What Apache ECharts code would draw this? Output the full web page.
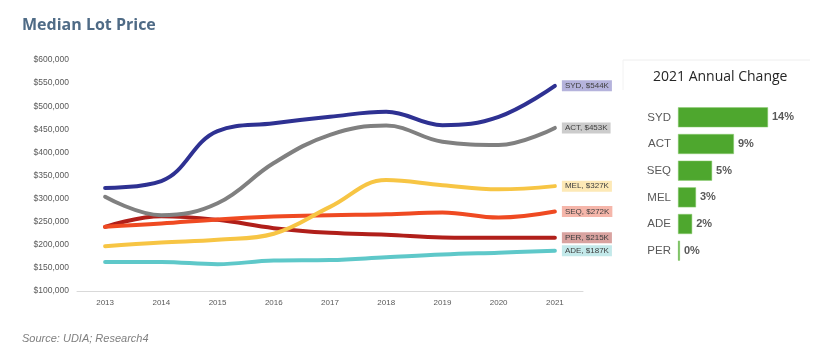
<!DOCTYPE html>
<html><head><meta charset="utf-8">
<script src="https://cdn.jsdelivr.net/npm/echarts@6/dist/echarts.min.js"></script>
<style>html,body{margin:0;padding:0;background:#fff}#c{width:838px;height:361px}</style>
</head><body><div id="c"></div>
<script>
const years = ['2013','2014','2015','2016','2017','2018','2019','2020','2021'];
const syd = [323000, 338000, 446000, 463000, 477000, 488000, 459000, 477000, 544000];
const act = [304000, 264000, 290000, 377000, 438000, 458000, 423000, 416000, 453000];
const mel = [197000, 205000, 211000, 224000, 282000, 340000, 329000, 320000, 327000];
const seq = [239000, 246000, 255000, 261000, 264000, 266000, 270000, 259000, 272000];
const per = [239000, 262000, 254000, 236000, 226000, 222000, 216000, 215000, 215000];
const ade = [163000, 163000, 158000, 166000, 167000, 173000, 179000, 183000, 187000];
const yTicks = [100000, 150000, 200000, 250000, 300000, 350000, 400000, 450000, 500000, 550000, 600000];
const changeCats = ['SYD','ACT','SEQ','MEL','ADE','PER'];
const changeVals = [14.0, 8.7, 5.3, 2.8, 2.2, 0.3];
const changeLabels = ['14%','9%','5%','3%','2%','0%'];

const FONT = '"Liberation Sans", Arial, sans-serif';
function mk(name, data, color, bg) {
  return {
    name, type: 'line', data, smooth: 0.4, symbol: 'none',
    xAxisIndex: 0, yAxisIndex: 0,
    lineStyle: { width: 4, color: color, cap: 'round' },
    itemStyle: { color: color },
    endLabel: {
      show: true, distance: 7,
      formatter: function(p){ return name + ', $' + Math.round(p.value/1000) + 'K'; },
      backgroundColor: bg, color: '#404040', fontSize: 8, fontFamily: FONT,
      padding: [2, 3, 1, 3]
    }
  };
}
const chart = echarts.init(document.getElementById('c'));
chart.setOption({
  animation: false,
  backgroundColor: '#fff',
  title: [
    { text: 'Median Lot Price', left: 22, top: 17, padding: 0, textStyle: { fontSize: 16, fontWeight: 'bold', color: '#4f6b86', fontFamily: '"Open Sans", sans-serif' } },
    { text: '2021 Annual Change', left: 653, top: 70, padding: 0, textStyle: { fontSize: 14, fontWeight: 500, color: '#262626', fontFamily: '"Open Sans", sans-serif' } }
  ],
  graphic: [
    { type: 'text', left: 22, top: 333, style: { text: 'Source: UDIA; Research4', font: 'italic 11px "Liberation Sans", Arial, sans-serif', fill: '#7f7f7f' } },
    { type: 'line', shape: { x1: 623, y1: 60, x2: 810, y2: 60 }, style: { stroke: '#eeeeee', lineWidth: 1 } },
    { type: 'line', shape: { x1: 623, y1: 60, x2: 623, y2: 90 }, style: { stroke: '#f2f2f2', lineWidth: 1 } }
  ],
  grid: [
    { left: 77, top: 60, width: 506, height: 231 },
    { left: 678, top: 104, width: 90, height: 160 }
  ],
  xAxis: [
    { type: 'category', gridIndex: 0, data: years, boundaryGap: true,
      axisLine: { lineStyle: { color: '#d9d9d9' } }, axisTick: { show: false },
      axisLabel: { color: '#595959', fontSize: 8, fontFamily: FONT, margin: 8 } },
    { type: 'value', gridIndex: 1, min: 0, max: 14, show: false }
  ],
  yAxis: [
    { type: 'value', gridIndex: 0, min: yTicks[0], max: yTicks[yTicks.length-1], interval: 50000,
      splitLine: { show: false }, axisLine: { show: false }, axisTick: { show: false },
      axisLabel: { color: '#595959', fontSize: 8.5, fontFamily: FONT, margin: 8,
        formatter: function(v){ return '$' + v.toLocaleString('en-US'); } } },
    { type: 'category', gridIndex: 1, data: changeCats, inverse: true,
      axisLine: { show: false }, axisTick: { show: false },
      axisLabel: { color: '#595959', fontSize: 11.5, fontFamily: FONT, margin: 7 } }
  ],
  series: [
    mk('ADE', ade, '#5ec8c9', '#c3e9ea'),
    mk('PER', per, '#b01f1a', '#d9a3a0'),
    mk('SEQ', seq, '#ef4a22', '#f5b6aa'),
    mk('MEL', mel, '#f7c544', '#fde9b6'),
    mk('ACT', act, '#808080', '#cccccc'),
    mk('SYD', syd, '#2e3192', '#b5b3dc'),
    { type: 'bar', xAxisIndex: 1, yAxisIndex: 1, data: changeVals, barWidth: 20,
      itemStyle: { color: '#4ea72e', borderColor: '#8fcf74', borderWidth: 0.5 },
      label: { show: true, position: 'right', distance: 4, fontSize: 11, fontWeight: 'bold', color: '#595959', fontFamily: FONT,
        formatter: function(p){ return changeLabels[p.dataIndex]; } } }
  ]
});
</script></body></html>
